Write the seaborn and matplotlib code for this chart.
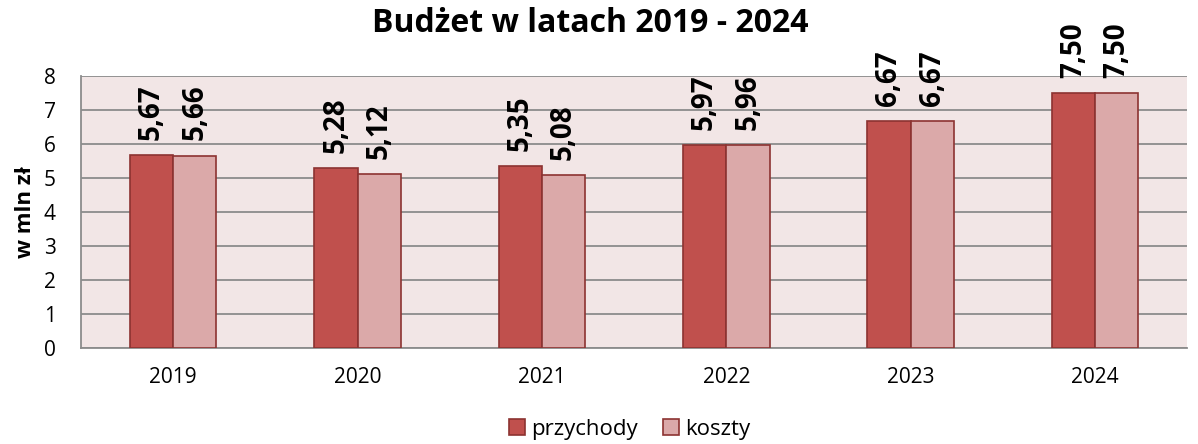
import pandas as pd
import matplotlib.pyplot as plt
import seaborn as sns

years = ['2019', '2020', '2021', '2022', '2023', '2024']
przychody = [5.67, 5.28, 5.35, 5.97, 6.67, 7.50]
koszty = [5.66, 5.12, 5.08, 5.96, 6.67, 7.50]

df = pd.DataFrame({
    'rok': years * 2,
    'wartosc': przychody + koszty,
    'seria': ['przychody'] * len(years) + ['koszty'] * len(years),
})

sns.set_style('white')
plt.rcParams['font.family'] = ['Open Sans', 'DejaVu Sans']
plt.rcParams['text.color'] = 'black'
plt.rcParams['axes.labelcolor'] = 'black'

fig = plt.figure(figsize=(11.98, 4.44), dpi=100)
ax = fig.add_axes([0.0676, 0.2162, 0.9234, 0.6126])

palette = {'przychody': '#C0504D', 'koszty': '#DBA9A9'}
sns.barplot(data=df, x='rok', y='wartosc', hue='seria', palette=palette,
            width=0.47, edgecolor='#8C3331', linewidth=1.2, saturation=1,
            ax=ax, zorder=3)

ax.set_facecolor('#F2E6E6')
ax.set_ylim(0, 8)
ax.set_yticks(range(0, 9))
ax.grid(axis='y', color='#8C8C8C', linewidth=1.3, zorder=0)
ax.set_axisbelow(True)
for s in ['top', 'right']:
    ax.spines[s].set_visible(False)
for s in ['left', 'bottom']:
    ax.spines[s].set_color('#8C8C8C')
    ax.spines[s].set_linewidth(1.3)
ax.tick_params(axis='y', length=7, color='#8C8C8C', width=1.3, labelsize=15,
               labelcolor='black', pad=11)
ax.tick_params(axis='x', length=0, labelsize=15, labelcolor='black', pad=14)
ax.set_xlabel('')
ax.set_ylabel('w mln zł', fontsize=16, fontweight='bold', labelpad=6)
fig.suptitle('Budżet w latach 2019 - 2024', x=0.493, y=0.948, va='center',
             fontsize=23, fontweight='bold')

for cont in ax.containers:
    ax.bar_label(cont, labels=[f'{v:.2f}'.replace('.', ',') for v in cont.datavalues],
                 rotation=90, fontsize=20, fontweight='bold', padding=11,
                 clip_on=False)

ax.legend(loc='lower center', bbox_to_anchor=(0.496, -0.355), ncol=2, frameon=False,
          fontsize=16, handlelength=0.72, handleheight=0.72, handletextpad=0.3,
          columnspacing=1.1, borderpad=0.2, borderaxespad=0)

fig.savefig('out.png', dpi=100)
